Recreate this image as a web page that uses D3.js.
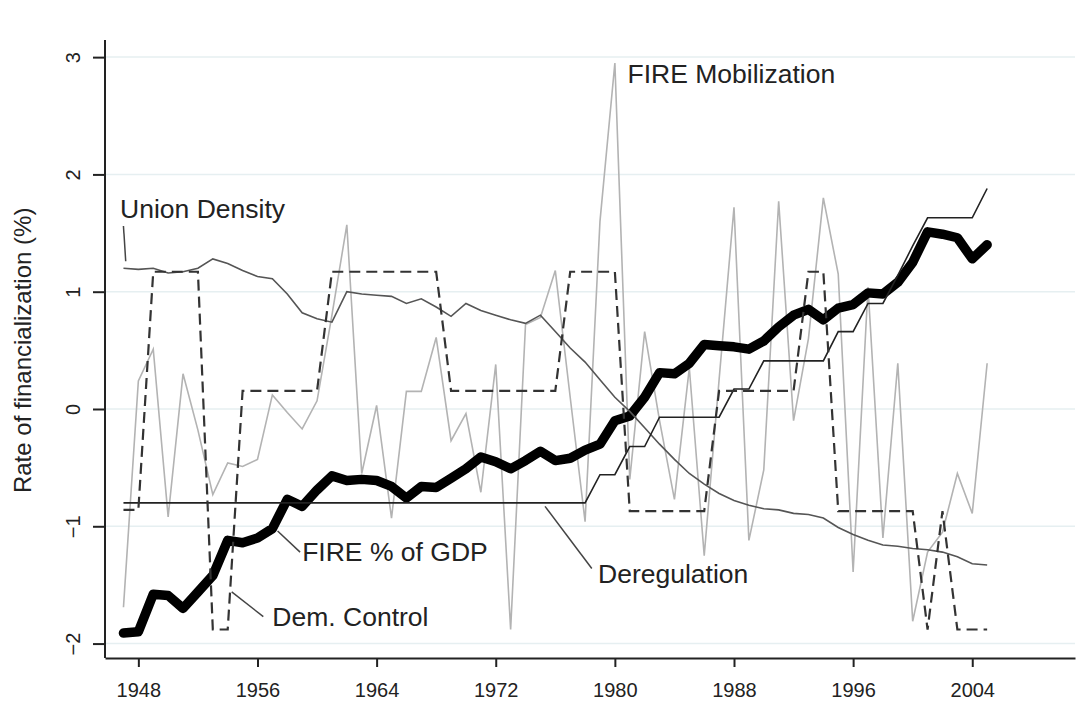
<!DOCTYPE html>
<html>
<head>
<meta charset="utf-8">
<script src="https://cdn.jsdelivr.net/npm/d3@7"></script>
<style>
body { margin: 0; background: #fff; }
text { font-family: "Liberation Sans", Arial, Helvetica, sans-serif; fill: #222; }
</style>
</head>
<body>
<script>
// years 1947-2005
var years = [1947,1948,1949,1950,1951,1952,1953,1954,1955,1956,
             1957,1958,1959,1960,1961,1962,1963,1964,1965,1966,
             1967,1968,1969,1970,1971,1972,1973,1974,1975,1976,
             1977,1978,1979,1980,1981,1982,1983,1984,1985,1986,
             1987,1988,1989,1990,1991,1992,1993,1994,1995,1996,
             1997,1998,1999,2000,2001,2002,2003,2004,2005];

var fireGdp = [-1.91,-1.90,-1.58,-1.59,-1.70,-1.56,-1.42,-1.12,-1.14,-1.10,
               -1.02,-0.77,-0.83,-0.69,-0.57,-0.61,-0.60,-0.61,-0.66,-0.76,
               -0.66,-0.67,-0.59,-0.51,-0.41,-0.45,-0.51,-0.44,-0.36,-0.44,
               -0.42,-0.35,-0.30,-0.10,-0.06,0.10,0.31,0.30,0.39,0.55,
               0.54,0.53,0.51,0.58,0.70,0.80,0.85,0.76,0.86,0.89,
               0.99,0.98,1.08,1.25,1.51,1.49,1.46,1.28,1.40];

var fireMob = [-1.69,0.24,0.51,-0.92,0.30,-0.18,-0.73,-0.46,-0.49,-0.43,
               0.12,-0.03,-0.17,0.07,0.80,1.57,-0.55,0.03,-0.93,0.15,
               0.15,0.61,-0.27,-0.04,-0.71,0.38,-1.88,0.72,0.78,1.18,
               0.10,-0.96,1.60,2.95,-0.60,0.66,-0.10,-0.77,0.35,-1.25,
               0.25,1.72,-1.12,-0.52,1.77,-0.10,0.60,1.80,1.15,-1.39,
               1.04,-1.10,0.39,-1.81,-1.22,-1.05,-0.55,-0.89,0.39];

var unionDensity = [1.20,1.19,1.20,1.16,1.17,1.20,1.28,1.24,1.18,1.13,
                    1.11,0.98,0.82,0.77,0.74,1.00,0.98,0.97,0.96,0.90,
                    0.94,0.87,0.79,0.90,0.84,0.80,0.76,0.73,0.80,0.66,
                    0.52,0.40,0.25,0.10,-0.02,-0.16,-0.30,-0.43,-0.55,-0.64,
                    -0.72,-0.78,-0.82,-0.85,-0.86,-0.89,-0.90,-0.93,-1.01,-1.07,
                    -1.12,-1.16,-1.17,-1.19,-1.20,-1.22,-1.26,-1.32,-1.33];

var dereg = [-0.80,-0.80,-0.80,-0.80,-0.80,-0.80,-0.80,-0.80,-0.80,-0.80,
             -0.80,-0.80,-0.80,-0.80,-0.80,-0.80,-0.80,-0.80,-0.80,-0.80,
             -0.80,-0.80,-0.80,-0.80,-0.80,-0.80,-0.80,-0.80,-0.80,-0.80,
             -0.80,-0.80,-0.56,-0.56,-0.32,-0.32,-0.07,-0.07,-0.07,-0.07,
             -0.07,0.17,0.17,0.41,0.41,0.41,0.41,0.41,0.66,0.66,
             0.90,0.90,1.14,1.39,1.63,1.63,1.63,1.63,1.88];

var demControl = [-0.86,-0.86,1.17,1.17,1.17,1.17,-1.88,-1.88,0.155,0.155,
                  0.155,0.155,0.155,0.155,1.17,1.17,1.17,1.17,1.17,1.17,
                  1.17,1.17,0.155,0.155,0.155,0.155,0.155,0.155,0.155,0.155,
                  1.17,1.17,1.17,1.17,-0.87,-0.87,-0.87,-0.87,-0.87,-0.87,
                  0.155,0.155,0.155,0.155,0.155,0.155,1.17,1.17,-0.87,-0.87,
                  -0.87,-0.87,-0.87,-0.87,-1.88,-0.87,-1.88,-1.88,-1.88];

var xTicks = [1948,1956,1964,1972,1980,1988,1996,2004];
var yTicks = [-2,-1,0,1,2,3];

var width = 1090;
var height = 711;

var svg = d3.select("body")
            .append("svg")
            .attr("width", width)
            .attr("height", height);

var x = d3.scaleLinear().domain([1945.76, 2010.9]).range([105, 1075]);
var y = d3.scaleLinear().domain([-2.123, 3.146]).range([658, 40]);

// gridlines
svg.selectAll("line.grid")
   .data(yTicks)
   .enter()
   .append("line")
   .attr("class", "grid")
   .attr("x1", x.range()[0])
   .attr("x2", x.range()[1])
   .attr("y1", function(d) { return y(d); })
   .attr("y2", function(d) { return y(d); })
   .attr("stroke", "#e6eff1")
   .attr("stroke-width", 1.5);

// axes
var yAxis = svg.append("g")
   .attr("transform", "translate(" + x.range()[0] + ",0)")
   .call(d3.axisLeft(y).tickValues(yTicks).tickSize(12).tickSizeOuter(0)
          .tickFormat(function(d) { return d < 0 ? "\u2212" + Math.abs(d) : d; }));
yAxis.selectAll("text")
   .attr("x", 0)
   .attr("dy", 0)
   .attr("text-anchor", "middle")
   .attr("transform", "translate(-25,0) rotate(-90)")
   .style("font-size", "20px");

var xAxis = svg.append("g")
   .attr("transform", "translate(0," + y.range()[0] + ")")
   .call(d3.axisBottom(x).tickValues(xTicks).tickSize(9).tickPadding(16).tickSizeOuter(0)
          .tickFormat(d3.format("d")));
xAxis.selectAll("text").style("font-size", "20px");

svg.selectAll(".domain").attr("stroke", "#222").attr("stroke-width", 2);
svg.selectAll(".tick line").attr("stroke", "#222").attr("stroke-width", 2);
yAxis.select(".domain").attr("d", "M0," + y.range()[0] + "V" + y.range()[1]);

// lines
var makeLine = function(vals) {
  return d3.line()
     .x(function(d, i) { return x(years[i]); })
     .y(function(d) { return y(d); })(vals);
};

svg.append("path")
   .attr("d", makeLine(fireMob))
   .attr("fill", "none")
   .attr("stroke", "#b3b3b3")
   .attr("stroke-width", 1.6);

svg.append("path")
   .attr("d", makeLine(fireGdp))
   .attr("fill", "none")
   .attr("stroke", "#000")
   .attr("stroke-width", 9.5)
   .attr("stroke-linejoin", "round")
   .attr("stroke-linecap", "round");

svg.append("path")
   .attr("d", makeLine(unionDensity))
   .attr("fill", "none")
   .attr("stroke", "#555")
   .attr("stroke-width", 1.6);

svg.append("path")
   .attr("d", makeLine(dereg))
   .attr("fill", "none")
   .attr("stroke", "#222")
   .attr("stroke-width", 1.6);

svg.append("path")
   .attr("d", makeLine(demControl))
   .attr("fill", "none")
   .attr("stroke", "#333")
   .attr("stroke-width", 2.2)
   .attr("stroke-dasharray", "11,6");

// labels with leader lines (in data units)
var labels = [
  {t: "FIRE Mobilization", x: 1980.85, y: 2.78, lead: null},
  {t: "Union Density", x: 1946.77, y: 1.63, lead: [1947.0, 1.56, 1947.15, 1.26]},
  {t: "FIRE % of GDP", x: 1959.0, y: -1.30, lead: [1957.35, -1.04, 1958.86, -1.22]},
  {t: "Dem. Control", x: 1957.0, y: -1.85, lead: [1954.27, -1.56, 1956.39, -1.77]},
  {t: "Deregulation", x: 1978.87, y: -1.48, lead: [1975.31, -0.83, 1978.45, -1.36]}
];

labels.forEach(function(l) {
  if (l.lead) {
    svg.append("line")
       .attr("x1", x(l.lead[0])).attr("y1", y(l.lead[1]))
       .attr("x2", x(l.lead[2])).attr("y2", y(l.lead[3]))
       .attr("stroke", "#444")
       .attr("stroke-width", 1.5);
  }
  svg.append("text")
     .text(l.t)
     .attr("x", x(l.x))
     .attr("y", y(l.y))
     .style("font-size", "26.5px");
});

// y axis title
svg.append("text")
   .text("Rate of financialization (%)")
   .attr("text-anchor", "middle")
   .attr("transform", "translate(31," + y(0.5) + ") rotate(-90)")
   .style("font-size", "24px");
</script>
</body>
</html>
